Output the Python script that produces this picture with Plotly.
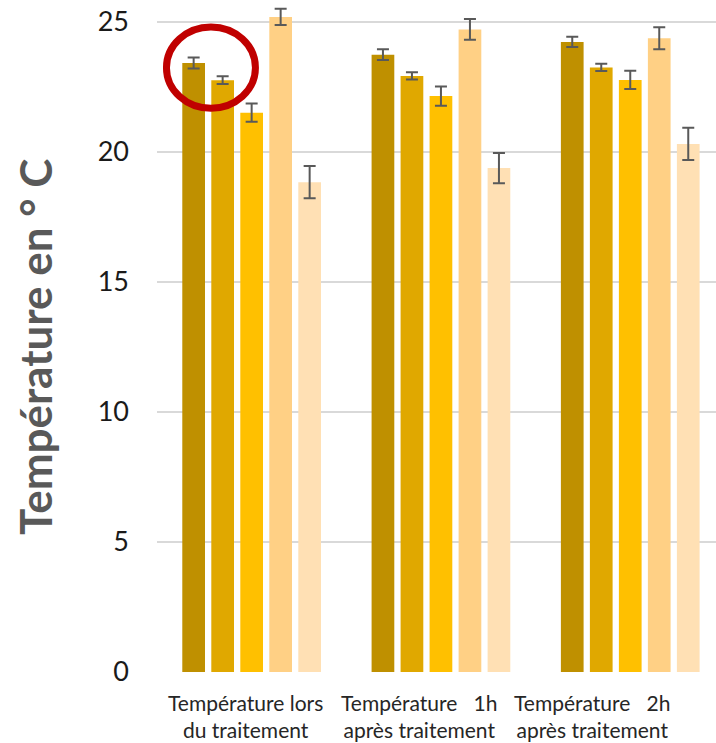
import plotly.graph_objects as go

categories = ["Température lors<br>du traitement",
              "Température\u00a0\u00a0\u00a01h<br>après traitement",
              "Température\u00a0\u00a0\u00a02h<br>après traitement"]
category_keys = ["lors", "1h", "2h"]

series_names = ["Série 1", "Série 2", "Série 3", "Série 4", "Série 5"]
series_values = [
    [23.41, 23.73, 24.22],
    [22.75, 22.91, 23.24],
    [21.50, 22.14, 22.76],
    [25.18, 24.70, 24.36],
    [18.83, 19.37, 20.30],
]
series_errors = [
    [0.21, 0.21, 0.20],
    [0.15, 0.14, 0.14],
    [0.35, 0.37, 0.35],
    [0.31, 0.40, 0.42],
    [0.62, 0.58, 0.62],
]
series_colors = ["#BF9000", "#E0A800", "#FFC000", "#FFD085", "#FFE0B4"]

y_ticks = [0, 5, 10, 15, 20, 25]
label_shifts = [-6, -22, -38]

fig = go.Figure()
for name, vals, errs, col in zip(series_names, series_values, series_errors, series_colors):
    fig.add_trace(go.Bar(
        x=category_keys, y=vals, name=name,
        marker=dict(color=col, line=dict(width=0)),
        error_y=dict(type="data", array=errs, visible=True,
                     color="#595959", thickness=2, width=6),
    ))

for i, (lab, sh) in enumerate(zip(categories, label_shifts)):
    fig.add_annotation(x=i, y=0, xref="x", yref="y", text=lab, showarrow=False,
                       xanchor="center", yanchor="top", yshift=-16, xshift=sh,
                       font=dict(family="Lato", size=21, color="#262626"))

fig.add_annotation(x=-0.218, y=(25 / 2) / 25.6, xref="paper", yref="paper",
                   text="<b>Température en ° C</b>", textangle=-90, showarrow=False,
                   xanchor="center", yanchor="middle",
                   font=dict(family="Lato", size=44, color="#595959"))

fig.add_shape(type="circle", xref="x", yref="y", x0=-0.45, x1=0.02, y0=21.67, y1=24.79,
              line=dict(color="#C00000", width=7), layer="above")

fig.update_layout(
    width=716, height=743,
    margin=dict(l=157, r=0, t=6.4, b=71, pad=0),
    paper_bgcolor="white", plot_bgcolor="white",
    barmode="group", bargap=0.234, bargroupgap=0.217,
    showlegend=False,
    xaxis=dict(type="category", range=[-0.5, 2.453], showticklabels=False,
               showgrid=False, zeroline=False, showline=False, ticks=""),
    yaxis=dict(range=[0, 25.6], tickvals=y_ticks, showgrid=True, gridcolor="#D9D9D9",
               gridwidth=2, zeroline=False, showline=False, ticks="",
               ticklabelstandoff=27,
               tickfont=dict(family="Lato", size=27, color="#1a1a1a")),
)

fig.write_html("out.html", config={"displayModeBar": False},
               post_script="document.body.style.margin='0px';")
